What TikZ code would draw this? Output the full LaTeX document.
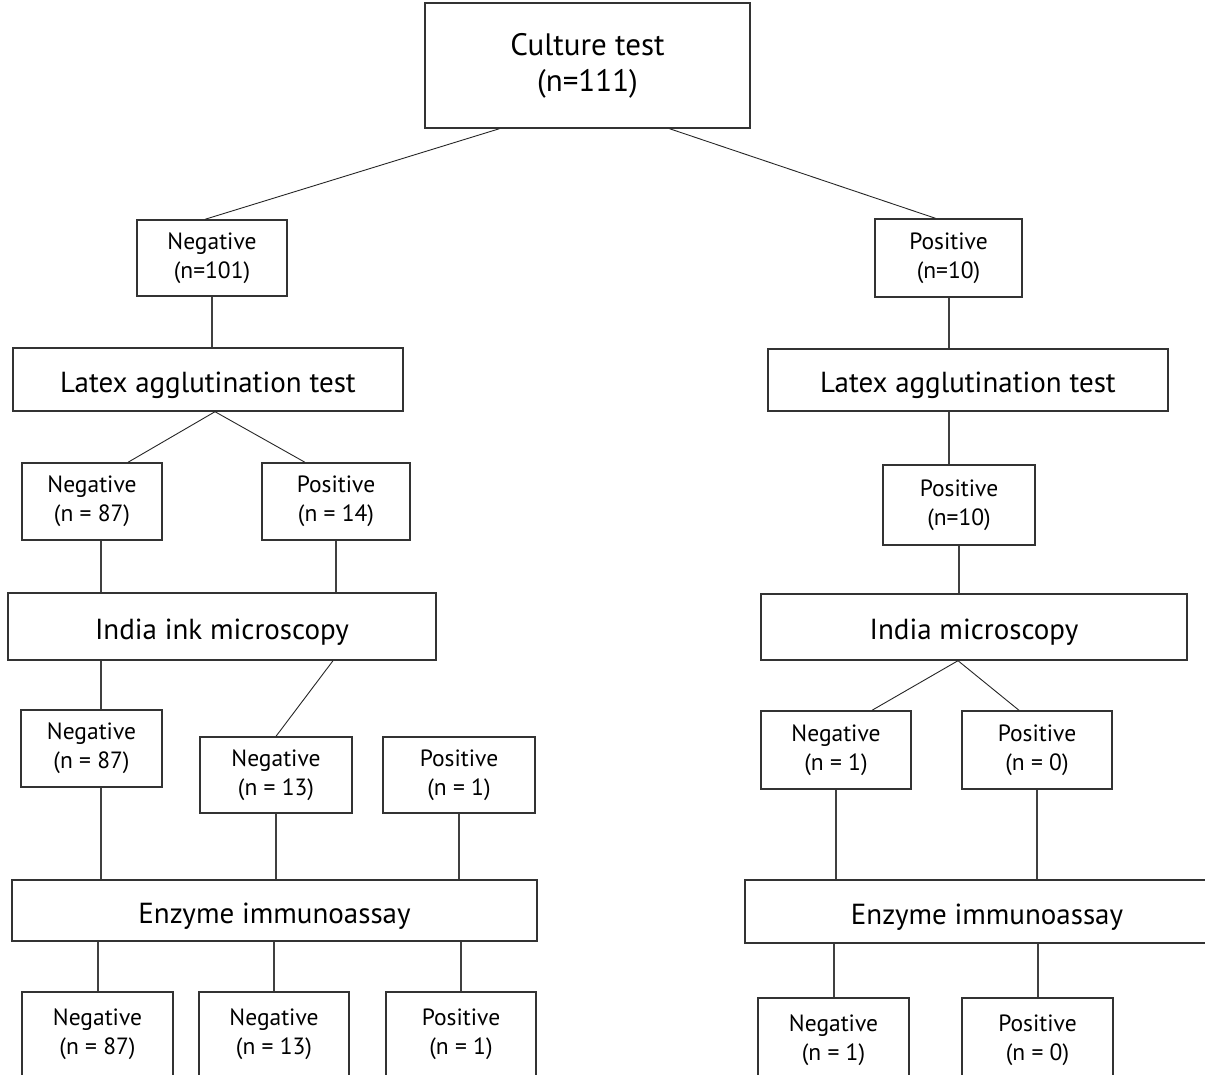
\documentclass[tikz,border=0pt]{standalone}
\usepackage{fontspec}
\setmainfont{PT Sans}
\usetikzlibrary{positioning}

\begin{document}
\begin{tikzpicture}[x=1pt, y=-1pt,
        res/.style={rectangle, draw=black!80, line width=1.4pt, align=center, inner sep=0pt, font=\fontsize{23.5}{29}\selectfont},
        testbox/.style={rectangle, draw=black!80, line width=1.4pt, align=center, inner sep=0pt, text height=25pt, text depth=0pt, font=\fontsize{29}{32}\selectfont},
        link/.style={draw=black!75, line width=2pt},
        split/.style={draw=black!85, line width=0.9pt}
    ]
    \useasboundingbox (0,0) rectangle (1205,1075);
    \clip (0,0) rectangle (1205,1075);

    % Topo
    \node (culture) [res, minimum width=325pt, minimum height=125pt, font=\fontsize{31}{36}\selectfont] at (587.5,65.5) {Culture test\\(n=111)};
    \node (neg1) [res, minimum width=150pt, minimum height=76pt] at (212,258)   {Negative\\(n=101)};
    \node (pos1) [res, minimum width=147pt, minimum height=78pt] at (948.5,258) {Positive\\(n=10)};

    % Latex
    \node (latL)  [testbox, minimum width=390pt, minimum height=63pt] at (208,379.5) {Latex agglutination test};
    \node (latR)  [testbox, minimum width=400pt, minimum height=62pt] at (968,380)   {Latex agglutination test};
    \node (negL2) [res, minimum width=140pt, minimum height=77pt] at (92,501.5)  {Negative\\(n = 87)};
    \node (posL2) [res, minimum width=148pt, minimum height=77pt] at (336,501.5) {Positive\\(n = 14)};
    \node (posR2) [res, minimum width=152pt, minimum height=80pt] at (959,505)   {Positive\\(n=10)};

    % Microscopia
    \node (indiaL) [testbox, minimum width=428pt, minimum height=67pt] at (222,626.5) {India ink microscopy};
    \node (indiaR) [testbox, minimum width=426pt, minimum height=66pt] at (974,627)   {India microscopy};
    \node (negL3) [res, minimum width=141pt, minimum height=77pt] at (91.5,748.5) {Negative\\(n = 87)};
    \node (negM3) [res, minimum width=152pt, minimum height=76pt] at (276,775)    {Negative\\(n = 13)};
    \node (posM3) [res, minimum width=152pt, minimum height=76pt] at (459,775)    {Positive\\(n = 1)};
    \node (negR3) [res, minimum width=150pt, minimum height=78pt] at (836,750)    {Negative\\(n = 1)};
    \node (posR3) [res, minimum width=150pt, minimum height=78pt] at (1037,750)   {Positive\\(n = 0)};

    % EIA
    \node (eiaL) [testbox, minimum width=525pt, minimum height=61pt] at (274.5,910.5) {Enzyme immunoassay};
    \node (eiaR) [testbox, minimum width=484pt, minimum height=63pt] at (987,911.5)   {Enzyme immunoassay};
    \node (negL4) [res, minimum width=151pt, minimum height=84pt] at (97.5,1034)  {Negative\\(n = 87)};
    \node (negM4) [res, minimum width=150pt, minimum height=84pt] at (274,1034)   {Negative\\(n = 13)};
    \node (posM4) [res, minimum width=150pt, minimum height=84pt] at (461,1034)   {Positive\\(n = 1)};
    \node (negR4) [res, minimum width=151pt, minimum height=84pt] at (833.5,1040) {Negative\\(n = 1)};
    \node (posR4) [res, minimum width=151pt, minimum height=84pt] at (1037.5,1040) {Positive\\(n = 0)};

    % Ligacoes
    \draw [split] ([xshift=-88pt]culture.south) -- ([xshift=-7pt]neg1.north);
    \draw [split] ([xshift=82pt]culture.south)  -- ([xshift=-13pt]pos1.north);
    \draw [link] (neg1.south) -- (neg1.south |- latL.north);
    \draw [link] (pos1.south) -- (pos1.south |- latR.north);
    \draw [split] ([xshift=7pt]latL.south) -- ([xshift=36pt]negL2.north);
    \draw [split] ([xshift=7pt]latL.south) -- ([xshift=-31pt]posL2.north);
    \draw [link] (latR.south -| pos1.south) -- (pos1.south |- posR2.north);
    \draw [link] ([xshift=9pt]negL2.south) -- ([xshift=9pt]negL2.south |- indiaL.north);
    \draw [link] (posL2.south) -- (posL2.south |- indiaL.north);
    \draw [link] (posR2.south) -- (posR2.south |- indiaR.north);
    \draw [link] ([xshift=9pt]negL3.north |- indiaL.south) -- ([xshift=9pt]negL3.north);
    \draw [split] ([xshift=111pt]indiaL.south) -- (negM3.north);
    \draw [split] ([xshift=-16pt]indiaR.south) -- ([xshift=36pt]negR3.north);
    \draw [split] ([xshift=-16pt]indiaR.south) -- ([xshift=-18pt]posR3.north);
    \draw [link] ([xshift=9pt]negL3.south) -- ([xshift=9pt]negL3.south |- eiaL.north);
    \foreach \n in {negM3, posM3}
        \draw [link] (\n.south) -- (\n.south |- eiaL.north);
    \foreach \n in {negR3, posR3}
        \draw [link] (\n.south) -- (\n.south |- eiaR.north);
    \foreach \n in {negL4, negM4, posM4}
        \draw [link] (\n.north |- eiaL.south) -- (\n.north);
    \foreach \n in {negR4, posR4}
        \draw [link] (\n.north |- eiaR.south) -- (\n.north);

\end{tikzpicture}
\end{document}
